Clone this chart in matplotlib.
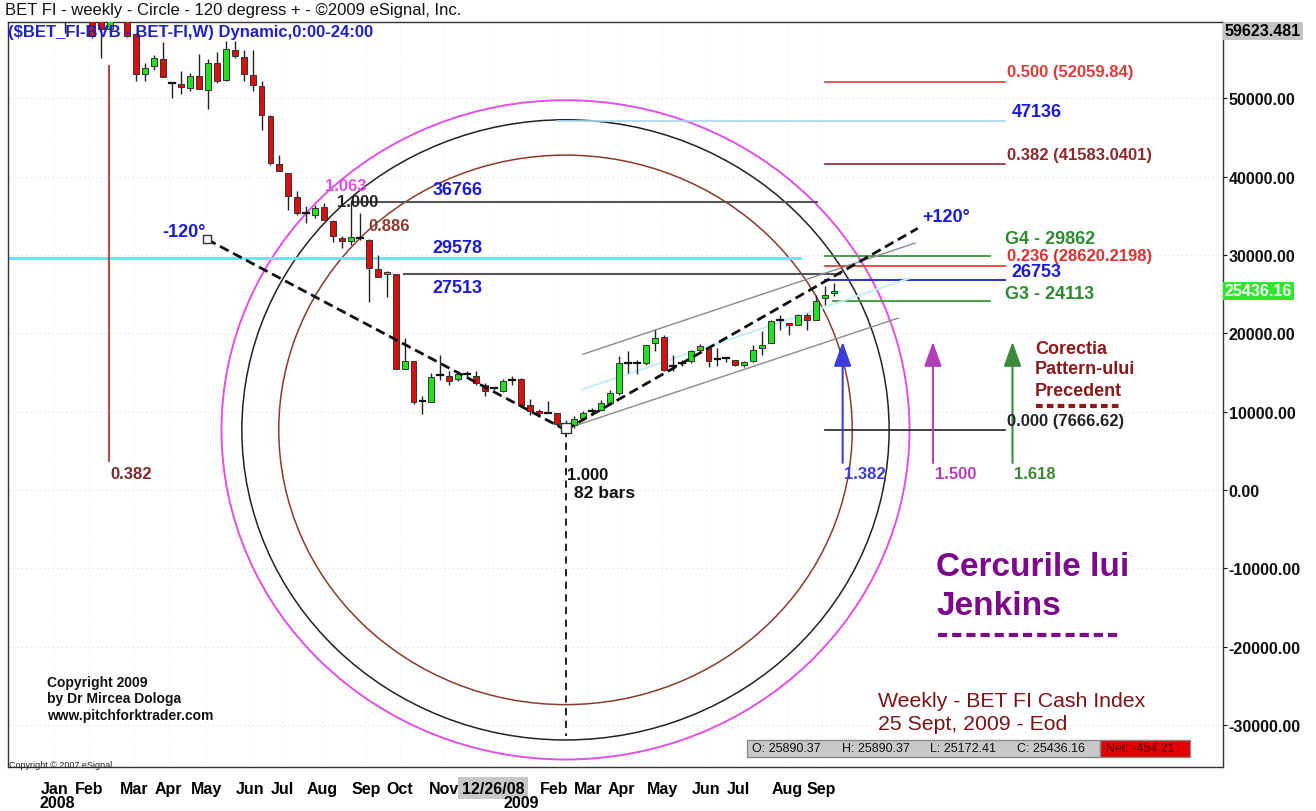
import matplotlib
matplotlib.use('Agg')
import matplotlib.pyplot as plt
from matplotlib.patches import Ellipse, Rectangle
from matplotlib.transforms import blended_transform_factory

plt.rcParams['font.family'] = ['Liberation Sans', 'DejaVu Sans']

# ---------------- data ----------------
bar_index = list(range(-56, 31))   # weeks relative to the Feb-2009 low
opens = [61500, 62000, 61000, 61000, 60200, 58830, 60400, 60800, 58190, 53080,
         54110, 55000, 51930, 51800, 51290, 52830, 51040, 54490, 52320, 56150,
         55250, 52960, 51550, 47720, 41590, 40440, 37370, 35330, 35070, 36100,
         34300, 32140, 31760, 32140, 31890, 28180, 27540, 27540, 15410, 16430,
         11330, 11200, 14650, 14520, 14140, 14780, 14520, 13370, 13000, 12600,
         14010, 14140, 10820, 10050, 9800, 9800, 8300, 8260, 9160, 10050,
         10180, 11070, 12350, 16180, 16180, 16180, 18730, 19500, 15800, 16180,
         16430, 17840, 18100, 16690, 16820, 16560, 15930, 16430, 18100, 18730,
         21670, 21290, 21030, 22310, 21670, 24470, 25120]
highs = [62500, 63500, 62000, 62000, 60800, 61000, 62000, 61500, 58400, 54490,
         55510, 57170, 51930, 53470, 53210, 55640, 55000, 55890, 57300, 57300,
         56150, 56150, 52190, 47850, 42740, 40440, 38140, 36200, 36330, 36610,
         34430, 32390, 36840, 35330, 32000, 29970, 27930, 27540, 19370, 16430,
         11970, 14900, 17200, 15160, 15160, 15160, 15160, 13630, 13200, 14140,
         14520, 14260, 11580, 10300, 11330, 9800, 8900, 9410, 10050, 10430,
         11460, 12730, 17070, 17710, 16560, 18480, 20400, 19750, 17200, 16560,
         17840, 18610, 18220, 18100, 16820, 16560, 16430, 18480, 20270, 21670,
         22310, 21290, 22440, 22560, 24860, 26010, 26450]
lows = [58320, 60400, 60200, 57700, 55130, 58500, 60000, 57800, 52190, 52190,
        53600, 52700, 50020, 50530, 50920, 51170, 48620, 51930, 52190, 55130,
        52190, 50920, 45930, 41460, 40690, 35710, 35070, 34050, 34690, 34430,
        31620, 30860, 31250, 31890, 23980, 27160, 24600, 15410, 15410, 11000,
        9670, 11200, 14010, 13370, 13880, 14260, 13370, 11970, 12800, 12480,
        13370, 10690, 9540, 9410, 9800, 8130, 7666.62, 7900, 8900, 9670,
        10050, 10820, 12090, 14900, 14780, 15900, 17710, 15160, 15160, 15800,
        16180, 17710, 15670, 15800, 16300, 15800, 15670, 16300, 17200, 18730,
        20400, 19750, 21030, 20400, 21670, 23600, 24730]
closes = [60800, 61000, 61800, 57940, 58900, 60300, 61200, 57940, 53080, 53850,
          55130, 52700, 51930, 51420, 52830, 51170, 54490, 52190, 56280, 55380,
          53080, 51680, 47850, 41720, 40690, 37500, 35330, 35330, 35970, 34430,
          32390, 31760, 32260, 32140, 28310, 27160, 27800, 15410, 16430, 11200,
          11330, 14370, 14650, 13880, 14780, 14780, 13630, 12600, 13000, 13880,
          14010, 10820, 10050, 9800, 9800, 8390, 8550, 9030, 9800, 10050,
          11070, 12350, 16180, 16180, 16180, 18480, 19370, 15290, 15800, 16180,
          17710, 18350, 16430, 16690, 16820, 15930, 16300, 17840, 18480, 21540,
          21670, 21030, 22310, 21670, 24100, 24860, 25436.16]

month_labels = ['Jan', 'Feb', 'Mar', 'Apr', 'May', 'Jun', 'Jul', 'Aug', 'Sep', 'Oct', 'Nov',
                '12/26/08', 'Feb', 'Mar', 'Apr', 'May', 'Jun', 'Jul', 'Aug', 'Sep']
month_pos = [-57.2, -53.3, -48.3, -44.4, -40.2, -35.3, -31.7, -27.2, -22.3, -18.5, -13.6,
             -8.1, -1.3, 2.5, 6.2, 10.8, 15.7, 19.3, 24.8, 28.6]
year_labels = ['2008', '2009']
year_pos = [-56.9, -5.0]

y_ticks = [-30000, -20000, -10000, 0, 10000, 20000, 30000, 40000, 50000]
y_top_value = 59623.481
last_close = 25436.16
low_value = 7666.62

# Jenkins circle (centre at the low), radius in bars / price units
circle_center = (0, low_value)
circle_rx_bars = 36.2
circle_ry_price = 39600
circle_ratios = [0.886, 1.000, 1.063]
circle_colors = ['#8b3a2e', '#222222', '#e050e8']
circle_ratio_labels = ['0.886', '1.000', '1.063']
circle_label_pos = [(-22.1, 33800), (-25.6, 36870), (-26.9, 38910)]

# angle lines (+/-120 deg) and channel
minus120 = [(-40.1, 31990), (0, low_value)]
plus120 = [(0, low_value), (39.4, 33400)]
down_line = [(0, low_value), (0, -31450)]
chan_upper = [(1.96, 17330), (39.1, 31520)]
chan_lower = [(0, 7790), (37.2, 21930)]
chan_median = [(1.85, 12820), (38.5, 27030)]

# horizontal levels
levels_blue = [36766, 29578, 27513, 47136, 26753]
fib_levels = [52059.84, 41583.0401, 28620.2198, 7666.62]
fib_names = ['0.500 (52059.84)', '0.382 (41583.0401)', '0.236 (28620.2198)', '0.000 (7666.62)']
g_levels = [29862, 24113]
g_names = ['G4 - 29862', 'G3 - 24113']

# time projections (vertical)
time_ratios = ['0.382', '1.382', '1.500', '1.618']
time_pos = [-51.1, 31.0, 41.1, 50.0]

ohlc_text = ['O: 25890.37', 'H: 25890.37', 'L: 25172.41', 'C: 25436.16']
net_text = 'Net: -454.21'

# ---------------- figure ----------------
W, H = 1316, 812
fig = plt.figure(figsize=(W / 100, H / 100), dpi=100)
fig.patch.set_facecolor('white')


def fx(p):
    return p / W


def fy(p):
    return 1 - p / H


ax = fig.add_axes([fx(8), fy(768), (1223 - 8) / W, (768 - 23) / H])
px_per_bar = 8.94
ax.set_xlim((8 - 565.5) / px_per_bar, (1223 - 565.5) / px_per_bar)
ytop = 59750
ax.set_ylim(ytop - (768 - 23) * 127.7, ytop)
for s in ax.spines.values():
    s.set_color('#333333')
    s.set_linewidth(1.0)

# grid
for v in y_ticks:
    ax.axhline(v, color='#dcdcdc', lw=0.8, ls=(0, (1, 3)), zorder=0)
for p in month_pos:
    ax.axvline(p, color='#ececec', lw=0.8, ls=(0, (1, 3)), zorder=0)

# y axis on the right
ax.yaxis.tick_right()
ax.set_yticks(y_ticks)
ax.set_yticklabels([f'{v:.2f}' for v in y_ticks], fontsize=11.5, fontweight='bold')
ax.tick_params(axis='y', length=3, pad=1, colors='#111111')
ax.set_xticks(month_pos)
ax.set_xticklabels(month_labels, fontsize=11.5, fontweight='bold')
ax.tick_params(axis='x', length=0, pad=10)
for lab in ax.get_xticklabels():
    if lab.get_text() == '12/26/08':
        lab.set_bbox(dict(facecolor='#c8c8c8', edgecolor='none', pad=2.5))
for t, p in zip(year_labels, year_pos):
    ax.text(p, -0.048, t, transform=blended_transform_factory(ax.transData, ax.transAxes),
            ha='center', va='center', fontsize=11.5, fontweight='bold', clip_on=False)

# circles
for r, c in zip(circle_ratios, circle_colors):
    ax.add_patch(Ellipse(circle_center, 2 * circle_rx_bars * r, 2 * circle_ry_price * r,
                         fill=False, edgecolor=c, lw=1.4 if c == '#e050e8' else 1.1, zorder=2))
for t, (xx, yy), c in zip(circle_ratio_labels, circle_label_pos, circle_colors):
    ax.text(xx, yy, t, color=c, fontsize=12, fontweight='bold', va='center', ha='left', zorder=6)

# horizontal levels
ax.plot([-23.9, 28.1], [levels_blue[0]] * 2, color='#555555', lw=1.5, zorder=2)
ax.plot([-63, 26.2], [levels_blue[1]] * 2, color='#70e2f0', lw=2.2, zorder=2)
ax.plot([-18.1, 30.7], [levels_blue[2]] * 2, color='#555555', lw=1.5, zorder=2)
ax.plot([-1.0, 49.2], [levels_blue[3]] * 2, color='#a8d4f0', lw=1.2, zorder=2)
ax.plot([29.0, 49.2], [levels_blue[4]] * 2, color='#3535c0', lw=1.5, zorder=2)
blue_label_pos = [(-14.9, 38400), (-14.9, 31000), (-14.9, 25860), (49.9, 48350), (49.9, 27920)]
for v, (xx, yy) in zip(levels_blue, blue_label_pos):
    ax.text(xx, yy, str(v), color='#1a1ad8', fontsize=13, fontweight='bold', va='center', zorder=6)

fib_colors = ['#e03c3c', '#8b2a2a', '#e03030', '#222222']
fib_label_y = [53450, 42870, 29970, 8900]
for v, n, c, ly in zip(fib_levels, fib_names, fib_colors, fib_label_y):
    ax.plot([29.0, 49.2], [v, v], color=c, lw=1.2, zorder=2)
    ax.text(49.4, ly, n, color=c, fontsize=12, fontweight='bold', va='center', zorder=6)

g_start = [29.0, 29.9]
g_label_y = [32140, 25120]
for v, n, xs, ly in zip(g_levels, g_names, g_start, g_label_y):
    ax.plot([xs, 47.5], [v, v], color='#3c963c', lw=1.3, zorder=2)
    ax.text(49.2, ly, n, color='#2e8a2e', fontsize=13, fontweight='bold', va='center', zorder=6)

# channel + angle lines
ax.plot(*zip(*chan_upper), color='#8a8a8a', lw=1.0, zorder=3)
ax.plot(*zip(*chan_lower), color='#8a8a8a', lw=1.0, zorder=3)
ax.plot(*zip(*chan_median), color='#c8eff8', lw=1.5, zorder=3)

# time projection verticals
ax.plot([time_pos[0]] * 2, [3660, 54100], color='#a65050', lw=1.5, zorder=2)
arrow_cols = ['#7a2a2a', '#3d3dd8', '#b040b8', '#3a8a3a']
for i in range(1, 4):
    ax.annotate('', xy=(time_pos[i], 18900), xytext=(time_pos[i], 3450),
                arrowprops=dict(arrowstyle='-|>,head_length=1.0,head_width=0.36',
                                color=arrow_cols[i], lw=1.5, mutation_scale=15,
                                shrinkA=0, shrinkB=0), zorder=4)
for t, p, c in zip(time_ratios, time_pos, arrow_cols):
    ax.text(p + 0.2, 2100, t, color=c, fontsize=12, fontweight='bold', va='center', zorder=6)

# candles
w = 0.66
for k, o, h, l, c in zip(bar_index, opens, highs, lows, closes):
    ax.plot([k, k], [l, h], color='#222222', lw=1.0, zorder=4, solid_capstyle='butt')
    if abs(c - o) < 1:
        ax.plot([k - w / 2, k + w / 2], [o, o], color='#111111', lw=1.6, zorder=5)
    else:
        col = '#22e022' if c > o else '#d81010'
        ax.add_patch(Rectangle((k - w / 2, min(o, c)), w, abs(c - o), facecolor=col,
                               edgecolor='#333333', lw=0.7, zorder=5))

ax.plot(*zip(*minus120), color='#111111', lw=2.0, ls=(0, (3.5, 1.8)), zorder=6)
ax.plot(*zip(*plus120), color='#111111', lw=2.0, ls=(0, (3.5, 1.8)), zorder=6)
ax.plot(*zip(*down_line), color='#111111', lw=1.3, ls=(0, (4, 3)), zorder=6)
ax.plot([minus120[0][0]], [minus120[0][1]], marker='s', ms=6, mfc='white', mec='#333333', mew=1, zorder=7)
ax.plot([0], [low_value + 300], marker='s', ms=7, mfc='white', mec='#333333', mew=1, zorder=7)
ax.text(-40.3, 33010, '-120°', color='#1a1ad8', fontsize=13, fontweight='bold', ha='right', va='center', zorder=6)
ax.text(39.9, 34930, '+120°', color='#1a1ad8', fontsize=13, fontweight='bold', ha='left', va='center', zorder=6)
ax.text(0.2, 2000, '1.000', color='#111111', fontsize=12, fontweight='bold', va='center', zorder=6)
ax.text(0.9, -290, '82 bars', color='#111111', fontsize=12.5, fontweight='bold', va='center', zorder=6)

# right side price boxes
bt = blended_transform_factory(ax.transAxes, ax.transData)
ax.text(1.0015, 58650, f'{y_top_value:.3f}', transform=bt, fontsize=11.5, fontweight='bold',
        va='center', ha='left', clip_on=False,
        bbox=dict(facecolor='#c4c4c4', edgecolor='none', pad=1.2))
ax.text(1.0015, last_close, f'{last_close:.2f}', transform=bt, fontsize=11.5, fontweight='bold',
        color='white', va='center', ha='left', clip_on=False,
        bbox=dict(facecolor='#2ee82e', edgecolor='none', pad=1.2))

# ---------------- free texts ----------------
fig.text(fx(5), fy(11), 'BET FI - weekly - Circle - 120 degress + - ©2009 eSignal, Inc.',
         fontsize=12, va='center', ha='left', color='#111111')
fig.text(fx(8), fy(32), '($BET_FI-BVB - BET-FI,W) Dynamic,0:00-24:00',
         fontsize=12, fontweight='bold', va='center', ha='left', color='#2020c8', zorder=10)

for t, yy in zip(['Corectia', 'Pattern-ului', 'Precedent'], [350, 370, 391]):
    fig.text(fx(1035), fy(yy), t, fontsize=13, fontweight='bold', color='#8b1a1a', va='center')
fig.add_artist(plt.Line2D([fx(1036), fx(1122)], [fy(407), fy(407)], color='#8b1a1a', lw=3,
                          ls=(0, (1.6, 1.0))))

for t, yy in zip(['Cercurile lui', 'Jenkins'], [568, 607]):
    fig.text(fx(936), fy(yy), t, fontsize=24, fontweight='bold', color='#7a0a8a', va='center')
fig.add_artist(plt.Line2D([fx(938), fx(1122)], [fy(636), fy(636)], color='#7a0a8a', lw=3,
                          ls=(0, (2.2, 1.2))))

for t, yy in zip(['Weekly - BET FI Cash Index', '25 Sept, 2009 - Eod'], [702, 725]):
    fig.text(fx(878), fy(yy), t, fontsize=15.3, color='#7a1414', va='center')

for t, yy in zip(['Copyright 2009', 'by Dr Mircea Dologa', 'www.pitchforktrader.com'], [683, 699, 716]):
    fig.text(fx(47), fy(yy), t, fontsize=10, fontweight='bold', color='#111111', va='center')
fig.text(fx(9), fy(766), 'Copyright © 2007 eSignal.', fontsize=6.5, color='#222222', va='center')

# OHLC status bar
fig.add_artist(Rectangle((fx(747), fy(758)), (1100 - 747) / W, 17 / H, transform=fig.transFigure,
                         facecolor='#c8c8c8', edgecolor='#8a8a8a', lw=1))
fig.add_artist(Rectangle((fx(1100), fy(758)), (1190 - 1100) / W, 17 / H, transform=fig.transFigure,
                         facecolor='#e00000', edgecolor='#8a8a8a', lw=1))
for t, xx in zip(ohlc_text, [752, 842, 930, 1017]):
    fig.text(fx(xx), fy(749.5), t, fontsize=9, color='#111111', va='center')
fig.text(fx(1106), fy(749.5), net_text, fontsize=9, color='#5a0000', va='center')

fig.savefig('out.png', dpi=100)
